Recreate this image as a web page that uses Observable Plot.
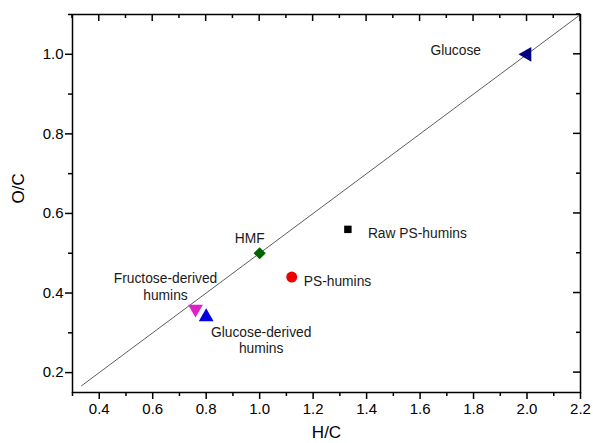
<!DOCTYPE html>
<html><head><meta charset="utf-8">
<script src="https://cdn.jsdelivr.net/npm/d3@7"></script>
<script src="https://cdn.jsdelivr.net/npm/@observablehq/plot@0.6"></script>
<style>body{margin:0;background:#fff;}</style>
</head><body><div id="chart"></div>
<script>
const names = ["Glucose","HMF","Fructose-derived\nhumins","Glucose-derived\nhumins","PS-humins","Raw PS-humins"];
const hc = [2.0, 1.0, 0.76, 0.80, 1.12, 1.33];
const oc = [1.0, 0.5, 0.36, 0.34, 0.44, 0.56];
const symbols = ["triangle","diamond2","triangle","triangle","circle","square"];
const rotations = [-90, 0, 180, 0, 0, 0];
const colors = ["#000080","#006400","#e020c8","#0000e0","#ee0000","#000000"];
const labelAnchor = ["end","middle","middle","middle","start","start"];
const labelDx = [-46, -10, -30, 55, 12, 20];
const labelDy = [-5, -16, -23, 23, 4, 3];
const lineX = [0.334, 2.2];
const lineY = lineX.map(v => v / 2); // fitted line O/C = 0.5 H/C
const xMajor = [0.4,0.6,0.8,1.0,1.2,1.4,1.6,1.8,2.0,2.2];
const xMinor = [0.3,0.5,0.7,0.9,1.1,1.3,1.5,1.7,1.9,2.1];
const yMajor = [0.2,0.4,0.6,0.8,1.0];
const yMinor = [0.3,0.5,0.7,0.9,1.1];

const pts = names.map((n,i)=>({name:n,x:hc[i],y:oc[i],sym:symbols[i],rot:rotations[i],col:colors[i],anchor:labelAnchor[i],dx:labelDx[i],dy:labelDy[i]}));
const line = lineX.map((x,i)=>({x, y: lineY[i]}));

// inward ticks on top and right edges, positioned through Plot's scales
function innerTicks(index, scales, values, dim) {
  const g = d3.create("svg:g").attr("stroke", "black").attr("stroke-width", 1.5);
  const top = dim.marginTop, right = dim.width - dim.marginRight;
  const add = (x1,y1,x2,y2) => g.append("line").attr("x1",x1).attr("y1",y1).attr("x2",x2).attr("y2",y2);
  xMajor.forEach(v => add(scales.x(v), top, scales.x(v), top + 7));
  xMinor.forEach(v => add(scales.x(v), top, scales.x(v), top + 4));
  yMajor.forEach(v => add(right, scales.y(v), right - 7, scales.y(v)));
  yMinor.forEach(v => add(right, scales.y(v), right - 4, scales.y(v)));
  return g.node();
}

const marks = [
  Plot.line(line, {x:"x", y:"y", stroke:"#333", strokeWidth:0.8}),
  Plot.axisX(xMajor, {anchor:"bottom", tickSize:7, tickPadding:4, fontSize:15, tickFormat:d3.format(".1f"), label:null, strokeWidth:1.5}),
  Plot.axisX(xMinor, {anchor:"bottom", tickSize:4, text:null, label:null, strokeWidth:1.5}),
  Plot.axisY(yMajor, {anchor:"left", tickSize:7, tickPadding:2, fontSize:15, tickFormat:d3.format(".1f"), label:null, strokeWidth:1.5}),
  Plot.axisY(yMinor, {anchor:"left", tickSize:4, text:null, label:null, strokeWidth:1.5}),
  innerTicks,
  Plot.frame({stroke:"black", strokeWidth:1.5}),
];
pts.forEach(p => {
  marks.push(Plot.dot([p], {x:"x", y:"y", symbol:()=>p.sym, rotate:p.rot, fill:p.col, stroke:"none", r: p.sym==="square" ? 4.2 : 5.5}));
  marks.push(Plot.text([p], {x:"x", y:"y", text:"name", textAnchor:p.anchor, dx:p.dx, dy:p.dy, fontSize:13.8, fill:"#1a1a1a", lineHeight:1.2}));
});

const chart = Plot.plot({
  width: 593, height: 443,
  marginLeft: 72, marginRight: 13, marginTop: 14, marginBottom: 51,
  x: {domain:[0.3, 2.2]},
  y: {domain:[0.15, 1.1]},
  symbol: {type:"identity"},
  style: {fontFamily:"'Liberation Sans', Arial, sans-serif", color:"#000", background:"#fff"},
  marks: [
    ...marks,
    Plot.text(["H/C"], {frameAnchor:"bottom", dy:45, fontSize:17, text:d=>d}),
    Plot.text(["O/C"], {frameAnchor:"left", dx:-54, rotate:-90, fontSize:17, text:d=>d})
  ]
});
document.getElementById("chart").appendChild(chart);
</script></body></html>
